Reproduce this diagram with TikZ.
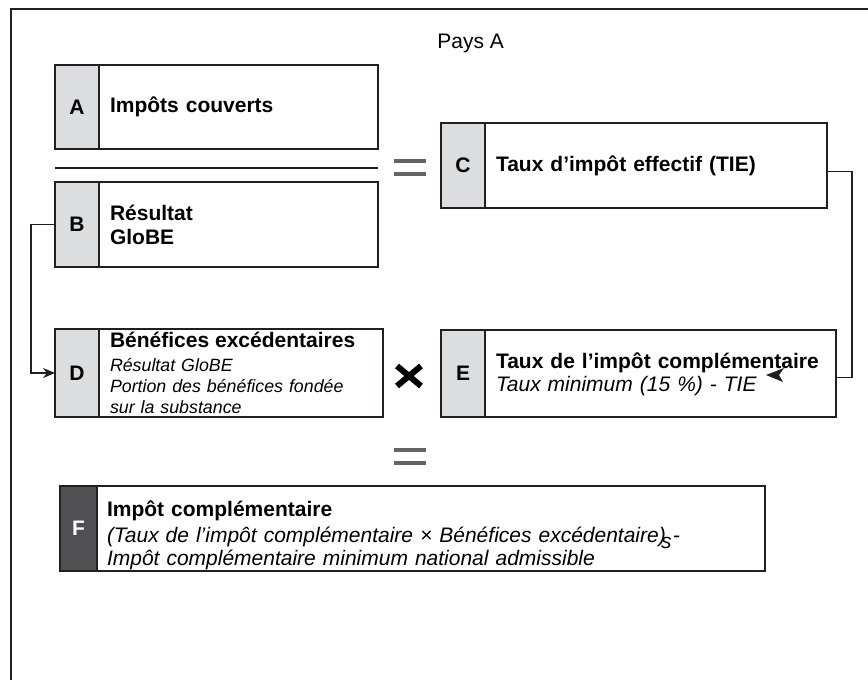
\documentclass[tikz,border=0pt]{standalone}
\usepackage{fontspec}
\setmainfont{Liberation Sans}
\usepackage{xcolor}
\usetikzlibrary{arrows.meta,positioning}
\definecolor{figgray}{RGB}{220,221,222}
\definecolor{figdark}{RGB}{80,80,82}
\definecolor{figline}{RGB}{35,31,32}
\definecolor{figeq}{RGB}{100,100,102}
\newcommand{\itl}[1]{{\itshape #1}}
\tikzset{
  keycell/.style={draw=figline, line width=0.9pt, fill=figgray, minimum width=22pt, inner sep=0pt, outer sep=0pt, anchor=north west, font=\fontsize{10.5}{12}\selectfont\bfseries},
  darkcell/.style={keycell, fill=figdark, text=white},
  bodybox/.style={draw=figline, line width=0.9pt, fill=white, inner xsep=5.5pt, inner ysep=0pt, outer sep=0pt, align=left, font=\fontsize{10.5}{11.5}\selectfont},
  eqbar/.style={fill=figeq, minimum width=16pt, minimum height=2pt, inner sep=0pt},
  line/.style={-{Stealth[length=6pt,width=5pt]}, draw=figline, line width=0.8pt},
  plainline/.style={draw=figline, line width=0.8pt},
  timesmark/.style={draw=black, line width=3pt},
  figtitle/.style={font=\fontsize{10.5}{12}\selectfont, inner sep=0pt}
}
\begin{document}
\begin{tikzpicture}[x=0.5pt,y=-0.5pt]
  \useasboundingbox (0,0) rectangle (868,680);
  \draw[figline, line width=1pt] (11,680) -- (11,9) -- (868,9);
  \node[figtitle, anchor=base west] (pays) at (437,48) {Pays A};

  \node[keycell, minimum height=42pt] (akey) at (55,65) {A};
  \node[bodybox, right=0pt of akey, text width=128.5pt, minimum height=42pt] (abody) {\textbf{Impôts couverts}};
  \node[keycell, minimum height=42.5pt] (bkey) at (55,182) {B};
  \node[bodybox, right=0pt of bkey, text width=128.5pt, minimum height=42.5pt, font=\fontsize{10.5}{12}\selectfont\bfseries] (bbody) {Résultat\\GloBE};

  \node[eqbar] (eqa1) at (410,161) {};
  \node[eqbar] (eqa2) at (410,174) {};
  \node[keycell, minimum height=42.5pt] (ckey) at (441,123) {C};
  \node[bodybox, right=0pt of ckey, text width=160pt, minimum height=42.5pt] (cbody) {\textbf{Taux d’impôt effectif (TIE)}};

  \node[keycell, minimum height=44pt] (dkey) at (55,329) {D};
  \node[bodybox, right=0pt of dkey, text width=131pt, minimum height=44pt, font=\fontsize{8.9}{10.6}\selectfont] (dbody)
    {{\fontsize{10.5}{12}\selectfont\bfseries Bénéfices excédentaires}\\[1pt]
     \itl{Résultat GloBE}\\ \itl{Portion des bénéfices fondée}\\ \itl{sur la substance}};
  \node[keycell, minimum height=43.5pt] (ekey) at (441,330) {E};
  \node[bodybox, right=0pt of ekey, text width=164.5pt, minimum height=43.5pt, font=\fontsize{10.5}{11.2}\selectfont, text depth=12.5pt] (ebody)
    {\textbf{Taux de l’impôt complémentaire}\\ \itl{Taux minimum (15 \%) - TIE}};

  \node[eqbar] (eqb1) at (410,450) {};
  \node[eqbar] (eqb2) at (410,463) {};
  \node[darkcell, minimum width=18.5pt, minimum height=42.5pt] (fkey) at (60,486) {F};
  \node[bodybox, right=0pt of fkey, inner xsep=5pt, text width=324pt, minimum height=42.5pt, font=\fontsize{10.5}{11.5}\selectfont, text height=14.5pt] (fbody)
    {\textbf{Impôt complémentaire}\\[1.5pt]
     \itl{(Taux de l’impôt complémentaire × Bénéfices excédentaire\rlap{\kern0.1em\raisebox{-0.55ex}{s}}) -}\\
     \itl{Impôt complémentaire minimum national admissible}};

  \draw[plainline, line width=1pt] ([yshift=-9.5pt]akey.south west) -- ([yshift=-9.5pt]abody.south east);
  \draw[timesmark] (397,366) -- (421,386) (421,366) -- (397,386);
  \fill[figline] (766,375) -- (784,368) -- (779,375) -- (783,382) -- cycle;

  \draw[line] (bkey.west) -- ++(-24,0) |- (dkey.west);
  \draw[plainline] ([yshift=-3pt]cbody.east) -- ++(25,0) |- ([yshift=-2pt]ebody.east);
\end{tikzpicture}
\end{document}
